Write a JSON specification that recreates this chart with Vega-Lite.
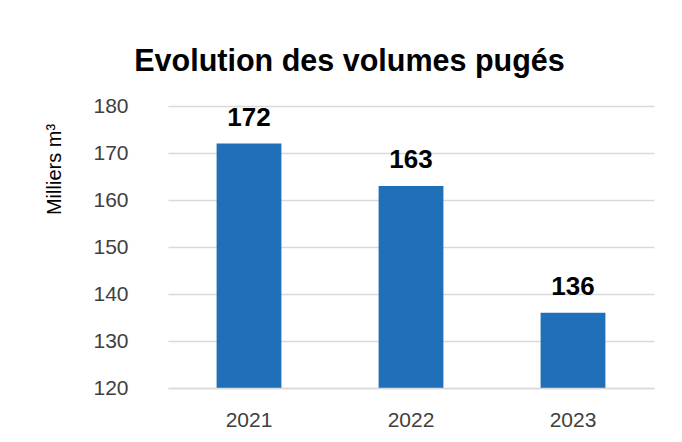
{
  "$schema": "https://vega.github.io/schema/vega-lite/v6.json",
  "width": 486,
  "height": 282,
  "autosize": {"type": "none"},
  "padding": {"left": 168, "top": 106, "right": 28, "bottom": 54},
  "background": "white",
  "config": {"view": {"stroke": null}},
  "title": {
    "text": "Evolution des volumes pugés",
    "font": "Liberation Sans",
    "fontSize": 30.5,
    "fontWeight": "bold",
    "color": "#000000",
    "anchor": "middle",
    "frame": "bounds",
    "offset": 18
  },
  "data": {
    "values": [
      {"year": "2021", "value": 172},
      {"year": "2022", "value": 163},
      {"year": "2023", "value": 136}
    ]
  },
  "encoding": {
    "x": {
      "field": "year",
      "type": "nominal",
      "scale": {"paddingInner": 0.6, "paddingOuter": 0.3},
      "axis": {
        "title": null,
        "labelAngle": 0,
        "labelFont": "Liberation Sans",
        "labelFontSize": 21,
        "labelColor": "#404040",
        "labelPadding": 21,
        "ticks": false,
        "tickSize": 0,
        "domain": true,
        "domainColor": "#d9d9d9",
        "domainWidth": 1.5,
        "zindex": 1
      }
    },
    "y": {
      "field": "value",
      "type": "quantitative",
      "scale": {"domain": [120, 180], "nice": false, "zero": false},
      "axis": {
        "title": "Milliers m³",
        "titleFont": "Liberation Sans",
        "titleFontSize": 20,
        "titleFontWeight": "normal",
        "titleColor": "#000000",
        "titlePadding": 28,
        "titleY": 63,
        "values": [120, 130, 140, 150, 160, 170, 180],
        "labelFont": "Liberation Sans",
        "labelFontSize": 21,
        "labelColor": "#404040",
        "labelPadding": 40,
        "ticks": false,
        "tickSize": 0,
        "domain": false,
        "grid": true,
        "gridColor": "#d9d9d9",
        "gridWidth": 1.5
      }
    }
  },
  "layer": [
    {"mark": {"type": "bar", "color": "#1f70b8", "clip": true}},
    {
      "mark": {
        "type": "text",
        "dy": -18,
        "baseline": "alphabetic",
        "font": "Liberation Sans",
        "fontSize": 26,
        "fontWeight": "bold",
        "color": "#000000"
      },
      "encoding": {"text": {"field": "value", "type": "quantitative"}}
    }
  ]
}
